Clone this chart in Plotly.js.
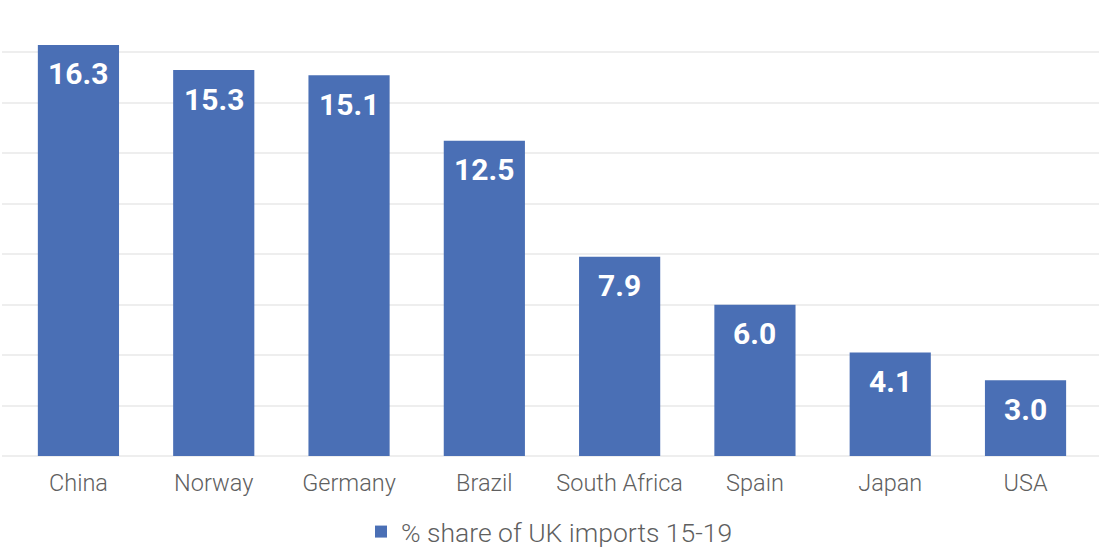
<!DOCTYPE html>
<html>
<head>
<meta charset="utf-8">
<script src="https://cdn.plot.ly/plotly-3.0.1.min.js"></script>
<style>html,body{margin:0;padding:0;background:#fff;}#chart{width:1099px;height:550px;}</style>
</head>
<body>
<div id="chart"></div>
<script>
const countries = ["China", "Norway", "Germany", "Brazil", "South Africa", "Spain", "Japan", "USA"];
const shares = [16.3, 15.3, 15.1, 12.5, 7.9, 6.0, 4.1, 3.0];
const seriesName = "% share of UK imports 15-19";

const barColor = "#4a6fb5";

const trace = {
  type: "bar",
  x: countries,
  y: shares,
  name: seriesName,
  marker: {color: barColor},
  showlegend: true,
  hoverinfo: "x+y"
};

const annotations = countries.map((c, i) => ({
  x: c,
  y: shares[i],
  xref: "x",
  yref: "y",
  text: shares[i].toFixed(1),
  showarrow: false,
  yanchor: "middle",
  yshift: -29,
  font: {family: "Roboto", size: 30, color: "#ffffff", weight: 700}
}));

const layout = {
  width: 1099,
  height: 550,
  margin: {l: 2, r: 0, t: 2, b: 94},
  paper_bgcolor: "#ffffff",
  plot_bgcolor: "#ffffff",
  bargap: 0.4,
  font: {family: "Roboto", color: "#595959"},
  xaxis: {
    range: [-0.565, 7.543],
    automargin: false,
    showgrid: false,
    zeroline: false,
    showline: false,
    ticks: "",
    tickfont: {family: "Roboto", size: 23.5, color: "#5f5f5f", weight: 300},
    ticklabelstandoff: 10
  },
  yaxis: {
    range: [0, 18],
    automargin: false,
    dtick: 2,
    showgrid: true,
    gridcolor: "#eeeeee",
    gridwidth: 2,
    zeroline: true,
    zerolinecolor: "#eeeeee",
    zerolinewidth: 2,
    showticklabels: false,
    ticks: ""
  },
  showlegend: true,
  legend: {
    orientation: "h",
    x: 0.5,
    xanchor: "center",
    xref: "container",
    yref: "container",
    y: 0.033,
    yanchor: "middle",
    font: {family: "Roboto", size: 26.5, color: "#5f5f5f", weight: 300}
  },
  annotations: annotations
};

Plotly.newPlot("chart", [trace], layout, {displayModeBar: false, staticPlot: true});
</script>
</body>
</html>
